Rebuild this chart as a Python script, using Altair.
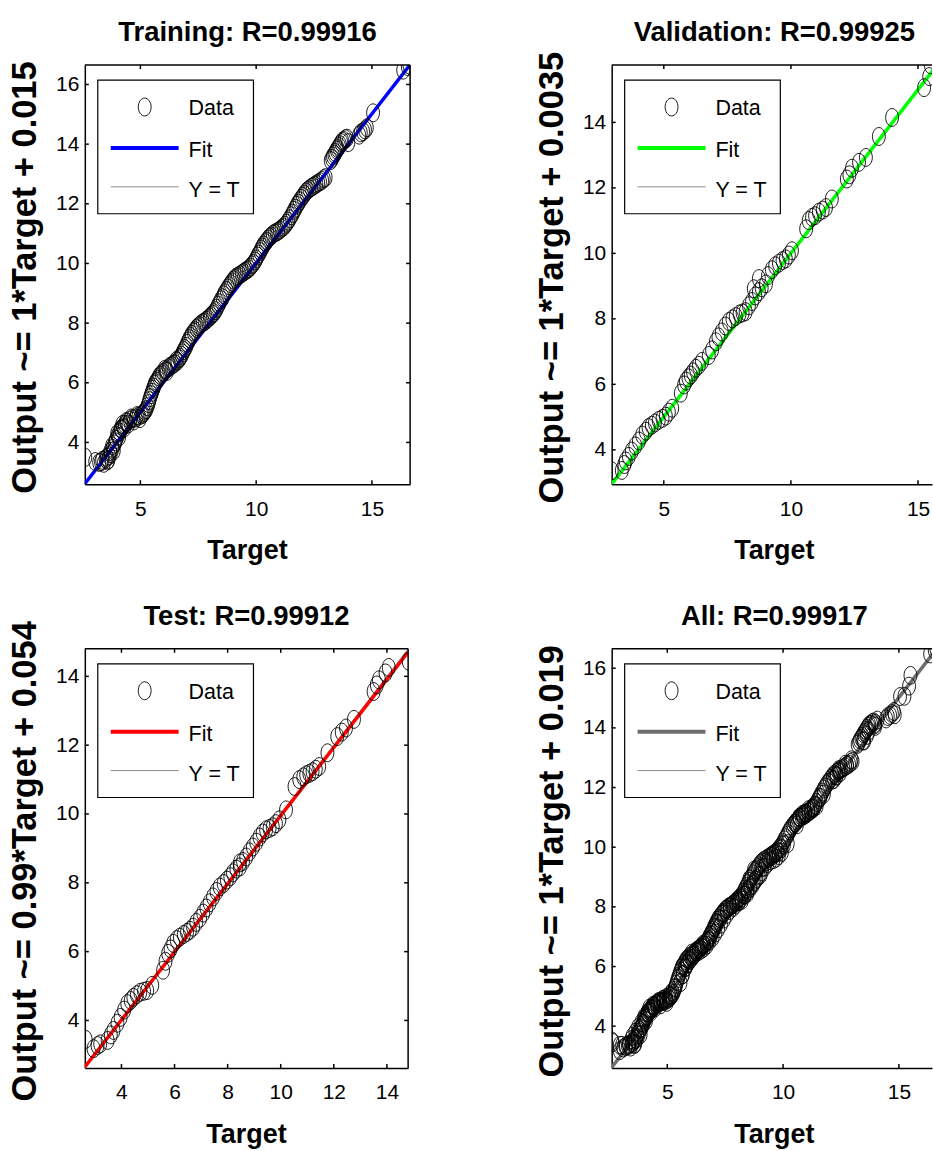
import altair as alt
import pandas as pd

# ---------------- data ----------------
train_target = [2.62, 3.05, 3.22, 3.35, 3.42, 3.50, 3.58, 3.65, 3.72, 3.80, 3.88, 3.95, 4.02, 4.10,
                4.18, 4.25, 4.33, 4.42, 4.55, 4.68, 4.80, 4.92, 5.05, 5.15, 5.25, 5.35, 5.42, 5.50,
                5.58, 5.65, 5.75, 5.85, 5.98, 6.10, 6.22, 6.35, 6.48, 6.60, 6.72, 6.82, 6.92, 7.02,
                7.12, 7.22, 7.35, 7.48, 7.62, 7.78, 7.92, 8.05, 8.18, 8.30, 8.42, 8.55, 8.65, 8.78,
                8.90, 9.02, 9.15, 9.30, 9.45, 9.60, 9.75, 9.88, 10.00, 10.12, 10.22, 10.32, 10.45,
                10.58, 10.72, 10.88, 11.02, 11.18, 11.32, 11.45, 11.58, 11.70, 11.82, 11.95, 12.08,
                12.22, 12.38, 12.52, 12.68, 12.85, 13.00, 13.22, 13.32, 13.42, 13.52, 13.62, 13.72,
                13.85, 13.98, 14.45, 14.62, 14.78, 15.05, 16.35, 16.55, 16.62,
                3.30, 3.55, 3.62, 3.70, 3.78, 3.85, 3.92, 4.00, 4.08, 4.15, 4.22, 4.30, 4.38, 4.48,
                4.60, 4.72, 4.85, 4.98, 5.10, 5.20, 5.30, 5.38, 5.46, 5.54, 5.62, 5.70, 5.80, 5.92,
                6.05, 6.15, 6.28, 6.42, 6.55, 6.68, 6.78, 6.88, 6.98, 7.08, 7.18, 7.30, 7.42, 7.55,
                7.70, 7.85, 8.00, 8.12, 8.25, 8.36, 8.48, 8.60, 8.72, 8.84, 8.96, 9.08, 9.22, 9.38,
                9.52, 9.68, 9.82, 9.95, 10.06, 10.18, 10.28, 10.40, 10.52, 10.65, 10.80, 10.95,
                11.10, 11.25, 11.38, 11.52, 11.64, 11.76, 11.88, 12.02, 12.15, 12.30, 12.45, 12.60,
                12.76, 12.92, 13.28, 13.38, 13.48, 13.58, 13.68, 13.80, 13.92, 14.52, 14.70]
train_output = [3.50, 3.36, 3.33, 3.40, 3.30, 3.45, 3.38, 3.55, 3.62, 3.80, 3.95, 4.10, 4.22, 4.35,
                4.45, 4.52, 4.60, 4.68, 4.75, 4.80, 4.82, 4.88, 4.92, 5.00, 5.10, 5.30, 5.50, 5.68,
                5.85, 6.00, 6.12, 6.25, 6.35, 6.42, 6.50, 6.58, 6.65, 6.72, 6.85, 7.00, 7.15, 7.32,
                7.48, 7.62, 7.75, 7.88, 7.98, 8.05, 8.15, 8.25, 8.35, 8.50, 8.68, 8.85, 9.02, 9.18,
                9.32, 9.45, 9.55, 9.62, 9.70, 9.78, 9.88, 10.00, 10.15, 10.32, 10.48, 10.62, 10.75,
                10.88, 10.98, 11.05, 11.12, 11.22, 11.35, 11.50, 11.68, 11.85, 12.02, 12.18, 12.32,
                12.45, 12.55, 12.62, 12.70, 12.78, 12.88, 13.45, 13.60, 13.72, 13.85, 13.98, 14.10,
                14.18, 14.05, 14.30, 14.42, 14.55, 15.05, 16.48, 16.60, 16.65,
                3.35, 3.50, 3.42, 3.70, 3.88, 3.72, 4.02, 4.30, 4.18, 4.45, 4.60, 4.48, 4.70, 4.62,
                4.82, 4.72, 4.90, 4.80, 4.95, 5.05, 5.20, 5.40, 5.60, 5.78, 5.95, 6.05, 6.20, 6.30,
                6.45, 6.38, 6.55, 6.62, 6.75, 6.80, 6.92, 7.08, 7.22, 7.40, 7.55, 7.70, 7.82, 7.92,
                8.02, 8.10, 8.20, 8.30, 8.42, 8.60, 8.78, 8.95, 9.10, 9.25, 9.38, 9.50, 9.58, 9.66,
                9.74, 9.82, 9.95, 10.08, 10.25, 10.40, 10.55, 10.70, 10.82, 10.92, 11.02, 11.08,
                11.18, 11.28, 11.42, 11.60, 11.78, 11.95, 12.10, 12.25, 12.40, 12.50, 12.58, 12.66,
                12.74, 12.84, 13.52, 13.66, 13.80, 13.92, 14.05, 14.12, 14.20, 14.38, 14.48]

val_target = [2.95, 3.35, 3.45, 3.50, 3.62, 3.74, 3.88, 4.02, 4.15, 4.29, 4.40, 4.53, 4.65, 4.80,
              4.95, 5.08, 5.20, 5.33, 5.67, 5.80, 5.87, 5.97, 6.06, 6.15, 6.26, 6.38, 6.50, 6.77,
              6.90, 7.05, 7.15, 7.28, 7.42, 7.56, 7.70, 7.83, 7.98, 8.10, 8.22, 8.35, 8.47, 8.54,
              8.60, 8.74, 8.74, 8.85, 9.02, 9.10, 9.25, 9.38, 9.53, 9.67, 9.80, 9.92, 10.04, 10.60,
              10.70, 10.83, 10.95, 11.10, 11.25, 11.38, 11.61, 12.20, 12.30, 12.40, 12.68, 12.95,
              13.46, 13.98, 15.24, 15.44, 15.50]
val_output = [3.36, 3.37, 3.55, 3.66, 3.80, 3.96, 4.12, 4.27, 4.45, 4.57, 4.68, 4.75, 4.82, 4.90,
              4.96, 5.03, 5.15, 5.27, 5.73, 5.98, 6.10, 6.20, 6.28, 6.38, 6.49, 6.58, 6.70, 6.88,
              7.05, 7.30, 7.45, 7.60, 7.78, 7.92, 8.00, 8.07, 8.15, 8.18, 8.22, 8.40, 8.53, 8.92,
              8.70, 8.83, 9.23, 8.95, 9.07, 9.32, 9.50, 9.62, 9.70, 9.78, 9.83, 9.95, 10.08, 10.75,
              11.00, 11.10, 11.15, 11.26, 11.32, 11.40, 11.66, 12.27, 12.40, 12.60, 12.78, 12.93,
              13.57, 14.15, 15.06, 15.40, 15.76]

test_target = [2.65, 2.95, 3.10, 3.20, 3.48, 3.60, 3.70, 3.85, 3.97, 4.10, 4.22, 4.35, 4.45, 4.58,
               4.71, 4.85, 4.97, 5.16, 5.57, 5.66, 5.76, 5.85, 5.95, 6.08, 6.20, 6.35, 6.47, 6.58,
               6.70, 6.82, 6.96, 7.08, 7.20, 7.32, 7.45, 7.58, 7.70, 7.85, 7.97, 8.10, 8.20, 8.33,
               8.46, 8.46, 8.58, 8.70, 8.82, 8.95, 9.08, 9.20, 9.32, 9.45, 9.58, 9.70, 9.82, 9.95,
               10.20, 10.52, 10.70, 10.85, 10.96, 11.08, 11.20, 11.32, 11.45, 11.76, 12.13, 12.30,
               12.46, 12.76, 13.50, 13.62, 13.70, 13.95, 14.07, 14.82]
test_output = [3.45, 3.18, 3.27, 3.32, 3.42, 3.58, 3.71, 3.92, 4.09, 4.30, 4.49, 4.58, 4.67, 4.75,
               4.82, 4.85, 4.87, 5.02, 5.46, 5.72, 5.95, 6.08, 6.24, 6.35, 6.42, 6.50, 6.56, 6.62,
               6.71, 6.85, 6.97, 7.12, 7.27, 7.42, 7.59, 7.75, 7.88, 7.98, 8.08, 8.18, 8.29, 8.40,
               8.46, 8.58, 8.62, 8.75, 8.90, 9.04, 9.18, 9.33, 9.45, 9.54, 9.58, 9.63, 9.72, 9.83,
               10.12, 10.80, 11.00, 11.08, 11.14, 11.18, 11.23, 11.30, 11.38, 11.78, 12.25, 12.38,
               12.50, 12.75, 13.56, 13.75, 13.90, 14.10, 14.26, 14.44]

all_target = train_target + val_target + test_target
all_output = train_output + val_output + test_output

titles = ["Training: R=0.99916", "Validation: R=0.99925", "Test: R=0.99912", "All: R=0.99917"]
ylabels = ["Output ~= 1*Target + 0.015", "Output ~= 1*Target + 0.0035",
           "Output ~= 0.99*Target + 0.054", "Output ~= 1*Target + 0.019"]
xlabel = "Target"
slopes = [1.0, 1.0, 0.99, 1.0]
intercepts = [0.015, 0.0035, 0.054, 0.019]
limits = [[2.6, 16.65], [2.95, 15.75], [2.62, 14.8], [2.6, 16.65]]
xdomains = [[2.6, 16.65], [2.95, 15.55], [2.62, 14.8], [2.6, 16.43]]
xticks = [[5, 10, 15], [5, 10, 15], [4, 6, 8, 10, 12, 14], [5, 10, 15]]
yticks = [[4, 6, 8, 10, 12, 14, 16], [4, 6, 8, 10, 12, 14], [4, 6, 8, 10, 12, 14],
          [4, 6, 8, 10, 12, 14, 16]]
fit_colors = ["#0000FF", "#00FF00", "#FF0000", "#6E6E6E"]
legend_labels = ["Data", "Fit", "Y = T"]

# ---------------- styling ----------------
ELLIPSE = "M -0.72 0 A 0.72 1 0 1 0 0.72 0 A 0.72 1 0 1 0 -0.72 0 Z"
FONT = "Liberation Sans, Arial"
H = 420
FULLW = 326
WIDTHS = [326, 321, 324, 321]
CENTERS = [163, 163, 162, 163]
RIGHT_BORDER = [True, False, True, False]


def one():
    return pd.DataFrame({"k": [0]})


def panel(i, target, output):
    w = WIDTHS[i]
    xs = alt.Scale(domain=xdomains[i], nice=False, zero=False)
    ys = alt.Scale(domain=limits[i], nice=False, zero=False)
    xaxis = alt.Axis(values=xticks[i], title=None, ticks=False, grid=False,
                     labelFont=FONT, labelFontSize=21, labelColor="black", labelPadding=14,
                     domainColor="black", domainWidth=1.5, labelFlush=False)
    yaxis = alt.Axis(values=yticks[i], title=None, ticks=False, grid=False,
                     labelFont=FONT, labelFontSize=21, labelColor="black", labelPadding=6,
                     domainColor="black", domainWidth=1.5, labelFlush=False)
    X = lambda: alt.X("Target:Q", scale=xs, axis=xaxis)
    Y = lambda: alt.Y("Output:Q", scale=ys, axis=yaxis)

    pts = pd.DataFrame({"Target": target, "Output": output})
    lim = limits[i]
    ident = pd.DataFrame({"Target": lim, "Output": lim})
    fit = pd.DataFrame({"Target": lim, "Output": [slopes[i] * v + intercepts[i] for v in lim]})

    layers = []
    layers.append(alt.Chart(ident).mark_line(color="#8A8A8A", strokeWidth=1, clip=True)
                  .encode(x=X(), y=Y()))
    layers.append(alt.Chart(fit).mark_line(color=fit_colors[i], strokeWidth=3.5, clip=True)
                  .encode(x=X(), y=Y()))
    layers.append(alt.Chart(pts).mark_point(shape=ELLIPSE, filled=False, color="black",
                                            size=320, strokeWidth=0.9, opacity=1, clip=True)
                  .encode(x=X(), y=Y()))
    # inward ticks
    yt = pd.DataFrame({"Output": yticks[i]})
    xt = pd.DataFrame({"Target": xticks[i]})
    layers.append(alt.Chart(yt).mark_rule(color="black", strokeWidth=1.5)
                  .encode(y=Y(), x=alt.value(0), x2=alt.value(4)))
    layers.append(alt.Chart(xt).mark_rule(color="black", strokeWidth=1.5)
                  .encode(x=X(), y=alt.value(0), y2=alt.value(4)))
    layers.append(alt.Chart(xt).mark_rule(color="black", strokeWidth=1.5)
                  .encode(x=X(), y=alt.value(H - 4), y2=alt.value(H)))
    # top border
    layers.append(alt.Chart(one()).mark_rule(color="black", strokeWidth=1.5)
                  .encode(x=alt.value(0), x2=alt.value(w), y=alt.value(0)))
    if RIGHT_BORDER[i]:
        layers.append(alt.Chart(yt).mark_rule(color="black", strokeWidth=1.5)
                      .encode(y=Y(), x=alt.value(w - 4), x2=alt.value(w)))
        layers.append(alt.Chart(one()).mark_rule(color="black", strokeWidth=1.5)
                      .encode(x=alt.value(w), y=alt.value(0), y2=alt.value(H)))
    # legend box
    layers.append(alt.Chart(one()).mark_rect(fill="white", stroke="black", strokeWidth=1.2)
                  .encode(x=alt.value(13), x2=alt.value(169), y=alt.value(15), y2=alt.value(149)))
    layers.append(alt.Chart(one()).mark_point(shape=ELLIPSE, filled=False, color="black",
                                              size=320, strokeWidth=0.9, opacity=1)
                  .encode(x=alt.value(60), y=alt.value(42)))
    layers.append(alt.Chart(one()).mark_rule(color=fit_colors[i], strokeWidth=4)
                  .encode(x=alt.value(26), x2=alt.value(94), y=alt.value(83)))
    layers.append(alt.Chart(one()).mark_rule(color="#8A8A8A", strokeWidth=1)
                  .encode(x=alt.value(26), x2=alt.value(94), y=alt.value(122)))
    for lab, yy in zip(legend_labels, [44, 86, 126]):
        layers.append(alt.Chart(one()).mark_text(text=lab, font=FONT, fontSize=21.5,
                                                 align="left", baseline="middle", color="black")
                      .encode(x=alt.value(104), y=alt.value(yy)))
    # panel title, axis titles
    layers.append(alt.Chart(one()).mark_text(text=titles[i], font=FONT, fontSize=27.5,
                                             fontWeight="bold", align="center",
                                             baseline="alphabetic", color="black")
                  .encode(x=alt.value(CENTERS[i]), y=alt.value(-24)))
    layers.append(alt.Chart(one()).mark_text(text=xlabel, font=FONT, fontSize=27,
                                             fontWeight="bold", align="center",
                                             baseline="alphabetic", color="black")
                  .encode(x=alt.value(CENTERS[i]), y=alt.value(H + 75)))
    layers.append(alt.Chart(one()).mark_text(text=ylabels[i], font=FONT, fontSize=34.5,
                                             fontWeight="bold", align="center", angle=270,
                                             baseline="alphabetic", color="black")
                  .encode(x=alt.value(-49), y=alt.value(213)))

    return alt.layer(*layers).properties(width=w, height=H)


data_sets = [(train_target, train_output), (val_target, val_output),
             (test_target, test_output), (all_target, all_output)]
charts = [panel(i, t, o) for i, (t, o) in enumerate(data_sets)]

chart = alt.concat(*charts, columns=2, spacing=alt.RowColnumber(row=165, column=202)).properties(
    bounds="flush",
    align="each",
    padding={"left": 7, "top": 18, "right": 0, "bottom": 0},
    background="white",
).configure_view(stroke=None)

chart.save("out.html", embed_options={"renderer": "svg", "actions": False})
